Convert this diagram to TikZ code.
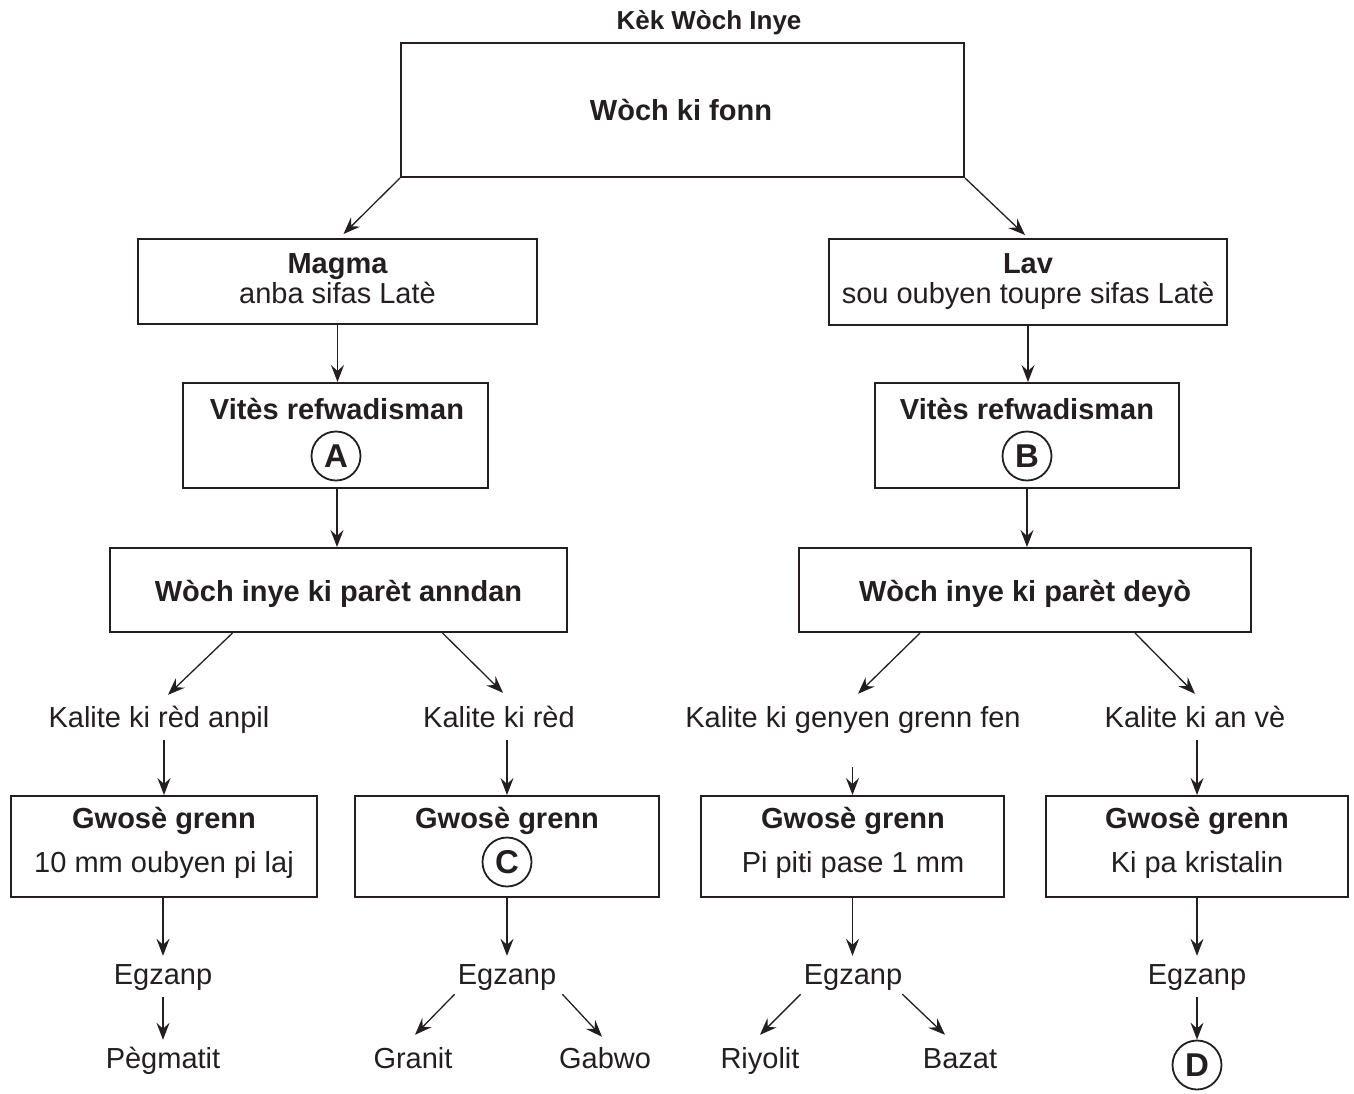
\documentclass[tikz,border=0pt]{standalone}
\usepackage{fontspec}
\setmainfont{Liberation Sans}
\usetikzlibrary{arrows.meta,calc}
\definecolor{ink}{HTML}{231F20}
\begin{document}
\begin{tikzpicture}[x=1pt,y=-1pt,
  box/.style n args={2}{draw=ink,line width=2.4pt,minimum width=#1,minimum height=#2,inner sep=0pt},
  tx/.style={font=\fontsize{29}{31}\selectfont,text=ink,inner sep=0pt,anchor=base},
  bt/.style={font=\fontsize{29}{31}\selectfont\bfseries,text=ink,inner sep=0pt,anchor=base},
  lbl/.style={font=\fontsize{29}{31}\selectfont,text=ink,text height=21pt,text depth=6pt,inner xsep=4pt,inner ysep=7pt,anchor=base},
  circ/.style={draw=ink,circle,line width=1.8pt,minimum size=49pt,inner sep=0pt,font=\fontsize{33}{35}\selectfont\bfseries,text=ink},
  arr/.style={draw=ink,line width=1.3pt,-{Stealth[length=17pt,width=13pt,inset=6pt]}}]
\useasboundingbox (0,0) rectangle (1354,1093);

% title
\node[font=\fontsize{26}{28}\selectfont\bfseries,text=ink,inner sep=0pt,anchor=base] (title) at (709,29) {Kèk Wòch Inye};

% top box
\node[box={562.6}{133.6}] (top) at (682.5,110) {};
\node[bt] (topt) at (681,120.5) {Wòch ki fonn};

% magma / lav
\node[box={398.6}{84.6}] (magma) at (337.5,281.5) {};
\node[bt] (magmat) at (337.5,273.5) {Magma};
\node[tx] (magmas) at (337.5,303) {anba sifas Latè};
\node[box={397.6}{85.6}] (lav) at (1028,282) {};
\node[bt] (lavt) at (1028,273.5) {Lav};
\node[tx] (lavs) at (1028,303) {sou oubyen toupre sifas Latè};

% vites boxes
\node[box={304.6}{104.6}] (vita) at (335.5,435.5) {};
\node[bt] (vitat) at (337,419.5) {Vitès refwadisman};
\node[circ] (ca) at (336,456) {A};
\node[box={303.6}{104.6}] (vitb) at (1027,435.5) {};
\node[bt] (vitbt) at (1027,419.5) {Vitès refwadisman};
\node[circ] (cb) at (1027,456) {B};

% woch inye boxes
\node[box={456.6}{83.6}] (wa) at (338.5,590) {};
\node[bt] (wat) at (338.5,601.5) {Wòch inye ki parèt anndan};
\node[box={451.6}{83.6}] (wd) at (1025,590) {};
\node[bt] (wdt) at (1025,601.5) {Wòch inye ki parèt deyò};

% kalite labels
\node[lbl] (k1) at (159,727) {Kalite ki rèd anpil};
\node[lbl] (k2) at (499,727) {Kalite ki rèd};
\node[lbl] (k3) at (853,727) {Kalite ki genyen grenn fen};
\node[lbl] (k4) at (1195,727) {Kalite ki an vè};

% gwose boxes
\node[box={305.6}{100.6}] (g1) at (164,846.5) {};
\node[bt] (g1t) at (164,828) {Gwosè grenn};
\node[tx] (g1s) at (164,872) {10 mm oubyen pi laj};
\node[box={303.6}{100.6}] (g2) at (507,846.5) {};
\node[bt] (g2t) at (507,828) {Gwosè grenn};
\node[circ] (cc) at (507,862) {C};
\node[box={302.6}{100.6}] (g3) at (852.5,846.5) {};
\node[bt] (g3t) at (853,828) {Gwosè grenn};
\node[tx] (g3s) at (853,872) {Pi piti pase 1 mm};
\node[box={301.6}{100.6}] (g4) at (1197,846.5) {};
\node[bt] (g4t) at (1197,828) {Gwosè grenn};
\node[tx] (g4s) at (1197,872) {Ki pa kristalin};

% egzanp
\node[lbl] (e1) at (163,984) {Egzanp};
\node[lbl] (e2) at (507,984) {Egzanp};
\node[lbl] (e3) at (853,984) {Egzanp};
\node[lbl] (e4) at (1197,984) {Egzanp};

% examples
\node[lbl] (peg) at (163,1068) {Pègmatit};
\node[lbl] (gra) at (413,1068) {Granit};
\node[lbl] (gab) at (605,1068) {Gabwo};
\node[lbl] (riy) at (760,1068) {Riyolit};
\node[lbl] (baz) at (960,1068) {Bazat};
\node[circ] (cd) at (1197,1065) {D};

% arrows
\draw[arr] (top.south west) -- ($(magma.north)+(6,-4)$);
\draw[arr] (top.south east) -- ($(lav.north)+(-3,-3)$);
\draw[arr] (magma.south) -- (magma.south |- vita.north);
\draw[arr] (lav.south) -- (lav.south |- vitb.north);
\draw[arr] ($(vita.south)+(1.5,0)$) -- ($(vita.south |- wa.north)+(1.5,0)$);
\draw[arr] (vitb.south) -- (vitb.south |- wd.north);

\draw[arr] ($(wa.south)+(-106,0)$) -- ($(k1.north)+(9,-4)$);
\draw[arr] ($(wa.south)+(104,0)$) -- ($(k2.north)+(4,-6)$);
\draw[arr] ($(wd.south)+(-105,0)$) -- ($(k3.north)+(5,-5)$);
\draw[arr] ($(wd.south)+(110,0)$) -- ($(k4.north)+(0,-5)$);

\draw[arr] (k1.south -| g1t.south) -- (g1.north -| g1t.south);
\draw[arr] (k2.south -| g2.north) -- (g2.north);
\draw[arr] ($(g3.north)+(0,-28)$) -- (g3.north);
\draw[arr] (k4.south -| g4.north) -- (g4.north);

\draw[arr] (g1.south -| e1.north) -- (e1.north);
\draw[arr] (g2.south) -- (g2.south |- e2.north);
\draw[arr] (g3.south) -- (g3.south |- e3.north);
\draw[arr] (g4.south) -- (g4.south |- e4.north);

\draw[arr] (e1.south) -- (peg.north);
\draw[arr] ($(e2.south west)+(1,-3)$) -- ($(gra.north)+(2,-5)$);
\draw[arr] ($(e2.south east)+(2,-3)$) -- ($(gab.north)+(-3,-3)$);
\draw[arr] ($(e3.south west)+(1,-3)$) -- ($(riy.north)+(0,-5)$);
\draw[arr] ($(e3.south east)+(-4,-3)$) -- ($(baz.north)+(-15,-5)$);
\draw[arr] (e4.south) -- (cd.north);
\end{tikzpicture}
\end{document}
